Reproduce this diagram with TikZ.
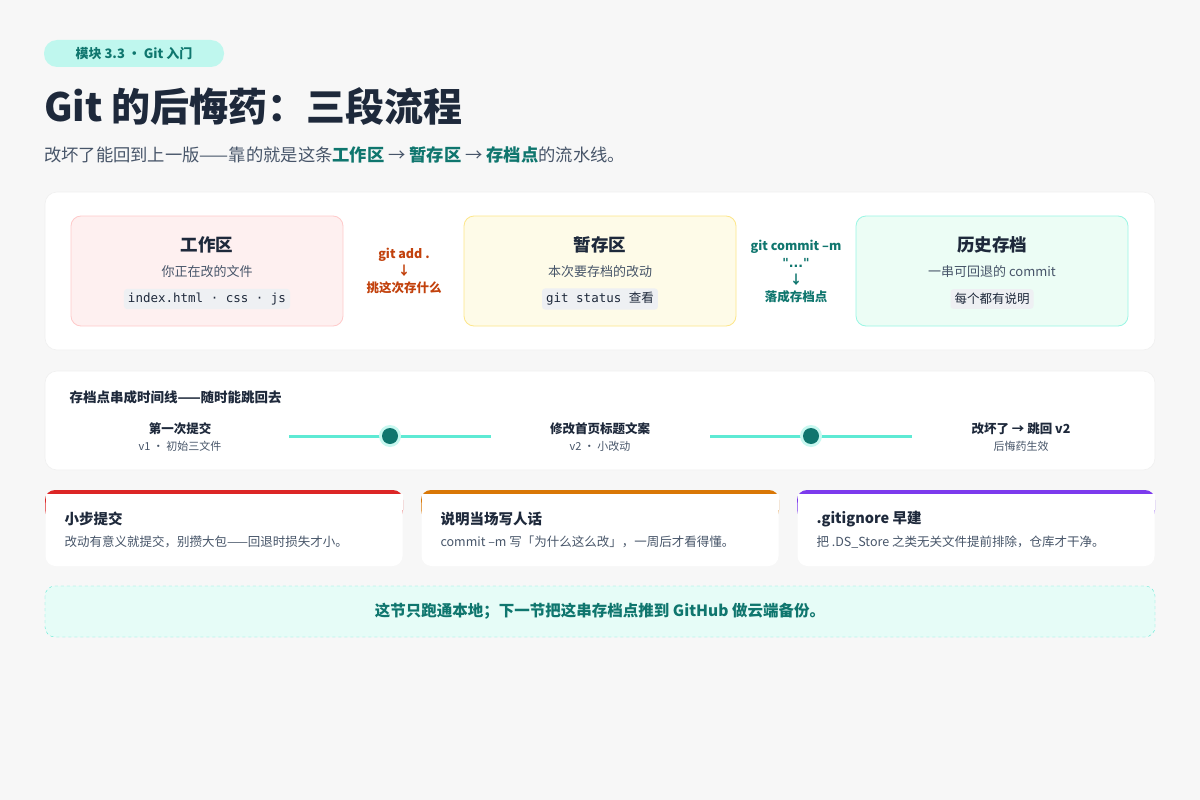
\documentclass[tikz,border=0pt]{standalone}
\usepackage{fontspec}
\setmainfont{Noto Sans CJK SC}
\setmonofont{DejaVu Sans Mono}
\newfontfamily\latinsans{DejaVu Sans}
\usetikzlibrary{calc,positioning}
\definecolor{ink}{HTML}{1E293B}
\definecolor{muted}{HTML}{475569}
\definecolor{teal}{HTML}{0F766E}
\definecolor{mint}{HTML}{5EEAD4}
\definecolor{rust}{HTML}{C2410C}
\definecolor{chip}{HTML}{EEF0F3}
\tikzset{
    panel/.style={fill=white,rounded corners=12pt,draw=black!6,line width=0.6pt},
    stage/.style={rounded corners=10pt,line width=0.8pt},
    code/.style={fill=chip,rounded corners=3pt,inner sep=4pt,font=\fontsize{12.5}{14}\selectfont},
    tip/.style={font=\fontsize{12.5}{17}\selectfont\bfseries,align=center},
}
\begin{document}
\begin{tikzpicture}[x=1pt,y=-1pt]
    \useasboundingbox[fill=gray!6] (0,0) rectangle (1200,800);

    % header
    \node[fill=mint!40,rounded corners=13pt,minimum width=180pt,minimum height=27pt,
          text=teal,font=\fontsize{13}{15}\selectfont\bfseries] (badge) at (134,53.5) {模块 3.3 · Git 入门};
    \node[anchor=west,text=ink,font=\fontsize{39}{44}\selectfont\bfseries,inner sep=0] (title) at (44,106) {Git 的后悔药：三段流程};
    \node[anchor=west,text=muted,font=\fontsize{17.3}{20}\selectfont,inner sep=0] (sub) at (44,155)
        {改坏了能回到上一版——靠的就是这条\textcolor{teal}{\bfseries 工作区} → \textcolor{teal}{\bfseries 暂存区} → \textcolor{teal}{\bfseries 存档点}的流水线。};

    % three stages
    \draw[panel] (45,192) rectangle (1155,350);
    \foreach \x/\fc/\dc/\name/\desc/\chipt in {
        71/FEF0F0/FECACA/工作区/你正在改的文件/{\ttfamily index.html · css · js},
        464/FEFBE8/FDE68A/暂存区/本次要存档的改动/{\ttfamily git status \rmfamily 查看},
        856/ECFDF5/99F6E4/历史存档/一串可回退的 commit/{\rmfamily 每个都有说明}}
    {
        \definecolor{fc}{HTML}{\fc}\definecolor{dc}{HTML}{\dc}
        \draw[stage,fill=fc,draw=dc] (\x,216) rectangle ++(272,110);
        \node[text=ink,font=\fontsize{17.5}{20}\selectfont\bfseries] at (\x+136,245) {\name};
        \node[text=muted,font=\fontsize{13}{15}\selectfont] at (\x+136,272) {\desc};
        \node[code,text=ink] at (\x+136,299) {\chipt};
    }
    \node[tip,text=rust] (add) at (404,271) {git add .\\↓\\挑这次存什么};
    \node[tip,text=teal] (commit) at (796,271) {git commit –m\\{\latinsans\char"22...\char"22}\\↓\\落成存档点};

    % timeline
    \draw[panel] (45,371) rectangle (1155,470);
    \node[anchor=west,text=ink,font=\fontsize{13.5}{15}\selectfont\bfseries] (tl) at (66,397) {存档点串成时间线——随时能跳回去};
    \foreach \x/\a/\b in {180/第一次提交/v1 · 初始三文件, 600/修改首页标题文案/v2 · 小改动, 1021/改坏了 → 跳回 v2/后悔药生效}
    {
        \node[text=ink,font=\fontsize{12.5}{15}\selectfont\bfseries] at (\x,429) {\a};
        \node[text=muted,font=\fontsize{11}{13}\selectfont] at (\x,446) {\b};
    }
    \foreach \x in {390,811}
    {
        \draw[mint,line width=3pt] (\x-101,436) -- (\x+101,436);
        \fill[mint!35] (\x,436) circle (11);
        \fill[teal] (\x,436) circle (8);
    }

    % tips
    \foreach \x/\c/\h/\t in {
        45/DC2626/小步提交/改动有意义就提交，别攒大包——回退时损失才小。,
        421/D97706/说明当场写人话/commit –m 写「为什么这么改」，一周后才看得懂。,
        797/7C3AED/.gitignore 早建/把 .DS\_Store 之类无关文件提前排除，仓库才干净。}
    {
        \definecolor{tc}{HTML}{\c}
        \fill[tc,rounded corners=10pt] (\x,490) rectangle ++(358,30);
        \fill[white,rounded corners=10pt] (\x+0.5,494) rectangle ++(357,72);
        \fill[white] (\x+0.5,494) rectangle ++(357,16);
        \node[anchor=west,text=ink,font=\fontsize{14.5}{16}\selectfont\bfseries] at (\x+16,519) {\h};
        \node[anchor=west,text=muted,font=\fontsize{12.5}{15}\selectfont] at (\x+16,542) {\t};
    }

    % footer
    \draw[fill=green!5!mint!15,draw=mint,dashed,rounded corners=10pt] (45,586) rectangle (1155,637);
    \node[text=teal,font=\fontsize{15.5}{18}\selectfont\bfseries] (foot) at (600,611) {这节只跑通本地；下一节把这串存档点推到 GitHub 做云端备份。};
\end{tikzpicture}
\end{document}
